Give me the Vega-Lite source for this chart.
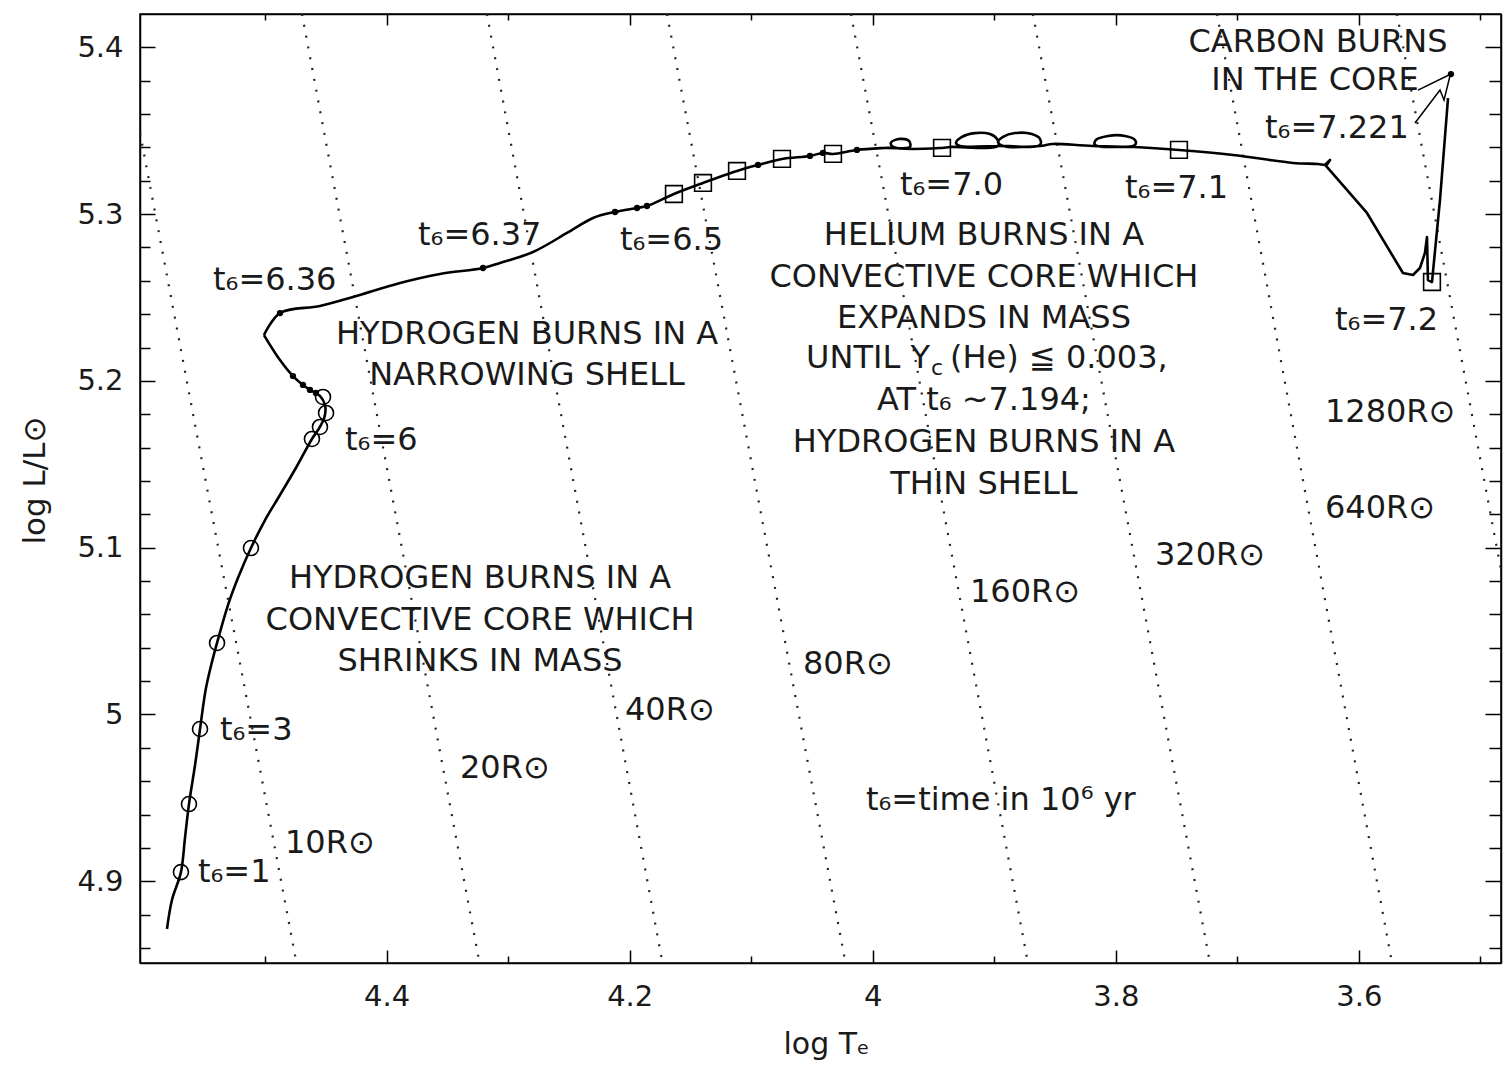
{
  "$schema": "https://vega.github.io/schema/vega-lite/v6.json",
  "width": 1361,
  "height": 949,
  "autosize": {"type": "none"},
  "padding": {"left": 140, "top": 14, "right": 3, "bottom": 102},
  "background": "white",
  "config": {"view": {"stroke": "black", "strokeWidth": 1.5}, "font": "DejaVu Sans"},
  "resolve": {"axis": {"x": "independent", "y": "independent"}},
  "datasets": {
    "track": [
      {"seg": "A", "i": 1, "logT": 4.5808, "logL": 4.8714}, {"seg": "A", "i": 2, "logT": 4.5767, "logL": 4.8888}, {"seg": "A", "i": 3, "logT": 4.5693, "logL": 4.9055},
      {"seg": "A", "i": 4, "logT": 4.5660, "logL": 4.9259}, {"seg": "A", "i": 5, "logT": 4.5627, "logL": 4.9463}, {"seg": "A", "i": 6, "logT": 4.5577, "logL": 4.9697},
      {"seg": "A", "i": 7, "logT": 4.5536, "logL": 4.9913}, {"seg": "A", "i": 8, "logT": 4.5490, "logL": 5.0147}, {"seg": "A", "i": 9, "logT": 4.5450, "logL": 5.0279},
      {"seg": "A", "i": 10, "logT": 4.5396, "logL": 5.0429}, {"seg": "A", "i": 11, "logT": 4.5306, "logL": 5.0656}, {"seg": "A", "i": 12, "logT": 4.5224, "logL": 5.0818},
      {"seg": "A", "i": 13, "logT": 4.5117, "logL": 5.0998}, {"seg": "A", "i": 14, "logT": 4.5001, "logL": 5.1166}, {"seg": "A", "i": 15, "logT": 4.4878, "logL": 5.1316},
      {"seg": "A", "i": 16, "logT": 4.4738, "logL": 5.1490}, {"seg": "A", "i": 17, "logT": 4.4615, "logL": 5.1652}, {"seg": "A", "i": 18, "logT": 4.4549, "logL": 5.1724},
      {"seg": "A", "i": 19, "logT": 4.4508, "logL": 5.1796}, {"seg": "A", "i": 20, "logT": 4.4508, "logL": 5.1856}, {"seg": "A", "i": 21, "logT": 4.4549, "logL": 5.1910},
      {"seg": "A", "i": 22, "logT": 4.4615, "logL": 5.1940}, {"seg": "A", "i": 23, "logT": 4.4689, "logL": 5.1976}, {"seg": "A", "i": 24, "logT": 4.4771, "logL": 5.2029},
      {"seg": "A", "i": 25, "logT": 4.4878, "logL": 5.2125}, {"seg": "A", "i": 26, "logT": 4.5010, "logL": 5.2275},
      {"seg": "B", "i": 26, "logT": 4.5010, "logL": 5.2275}, {"seg": "B", "i": 27, "logT": 4.4878, "logL": 5.2407},
      {"seg": "B", "i": 28, "logT": 4.4549, "logL": 5.2449}, {"seg": "B", "i": 29, "logT": 4.4277, "logL": 5.2503}, {"seg": "B", "i": 30, "logT": 4.3890, "logL": 5.2587},
      {"seg": "B", "i": 31, "logT": 4.3561, "logL": 5.2641}, {"seg": "B", "i": 32, "logT": 4.3207, "logL": 5.2677}, {"seg": "B", "i": 33, "logT": 4.3068, "logL": 5.2707},
      {"seg": "B", "i": 34, "logT": 4.2796, "logL": 5.2773}, {"seg": "B", "i": 35, "logT": 4.2516, "logL": 5.2887}, {"seg": "B", "i": 36, "logT": 4.2302, "logL": 5.2977},
      {"seg": "B", "i": 37, "logT": 4.2121, "logL": 5.3013}, {"seg": "B", "i": 38, "logT": 4.1940, "logL": 5.3037}, {"seg": "B", "i": 39, "logT": 4.1858, "logL": 5.3049},
      {"seg": "B", "i": 40, "logT": 4.1636, "logL": 5.3121}, {"seg": "B", "i": 41, "logT": 4.1397, "logL": 5.3187}, {"seg": "B", "i": 42, "logT": 4.1117, "logL": 5.3259},
      {"seg": "B", "i": 43, "logT": 4.0944, "logL": 5.3295}, {"seg": "B", "i": 44, "logT": 4.0747, "logL": 5.3331}, {"seg": "B", "i": 45, "logT": 4.0517, "logL": 5.3349},
      {"seg": "B", "i": 46, "logT": 4.0410, "logL": 5.3367}, {"seg": "B", "i": 47, "logT": 4.0327, "logL": 5.3361}, {"seg": "B", "i": 48, "logT": 4.0130, "logL": 5.3385},
      {"seg": "B", "i": 49, "logT": 3.9899, "logL": 5.3397}, {"seg": "B", "i": 50, "logT": 3.9694, "logL": 5.3403}, {"seg": "B", "i": 51, "logT": 3.9702, "logL": 5.3439},
      {"seg": "B", "i": 52, "logT": 3.9775, "logL": 5.3451}, {"seg": "B", "i": 53, "logT": 3.9850, "logL": 5.3430}, {"seg": "B", "i": 54, "logT": 3.9833, "logL": 5.3403},
      {"seg": "B", "i": 55, "logT": 3.9430, "logL": 5.3397}, {"seg": "B", "i": 56, "logT": 3.9364, "logL": 5.3403}, {"seg": "B", "i": 57, "logT": 3.8969, "logL": 5.3409},
      {"seg": "B", "i": 58, "logT": 3.8978, "logL": 5.3451}, {"seg": "B", "i": 59, "logT": 3.9035, "logL": 5.3480}, {"seg": "B", "i": 60, "logT": 3.9159, "logL": 5.3486},
      {"seg": "B", "i": 61, "logT": 3.9266, "logL": 5.3463}, {"seg": "B", "i": 62, "logT": 3.9315, "logL": 5.3427}, {"seg": "B", "i": 63, "logT": 3.9282, "logL": 5.3409},
      {"seg": "B", "i": 64, "logT": 3.8969, "logL": 5.3409}, {"seg": "B", "i": 65, "logT": 3.8624, "logL": 5.3415}, {"seg": "B", "i": 66, "logT": 3.8624, "logL": 5.3451},
      {"seg": "B", "i": 67, "logT": 3.8690, "logL": 5.3480}, {"seg": "B", "i": 68, "logT": 3.8830, "logL": 5.3486}, {"seg": "B", "i": 69, "logT": 3.8928, "logL": 5.3463},
      {"seg": "B", "i": 70, "logT": 3.8969, "logL": 5.3433}, {"seg": "B", "i": 71, "logT": 3.8928, "logL": 5.3409}, {"seg": "B", "i": 72, "logT": 3.8624, "logL": 5.3409},
      {"seg": "B", "i": 73, "logT": 3.8517, "logL": 5.3421}, {"seg": "B", "i": 74, "logT": 3.8188, "logL": 5.3409}, {"seg": "B", "i": 75, "logT": 3.7842, "logL": 5.3415},
      {"seg": "B", "i": 76, "logT": 3.7842, "logL": 5.3445}, {"seg": "B", "i": 77, "logT": 3.7924, "logL": 5.3469}, {"seg": "B", "i": 78, "logT": 3.8064, "logL": 5.3469},
      {"seg": "B", "i": 79, "logT": 3.8163, "logL": 5.3445}, {"seg": "B", "i": 80, "logT": 3.8171, "logL": 5.3415}, {"seg": "B", "i": 81, "logT": 3.7842, "logL": 5.3403},
      {"seg": "B", "i": 82, "logT": 3.7480, "logL": 5.3385}, {"seg": "B", "i": 83, "logT": 3.7036, "logL": 5.3355}, {"seg": "B", "i": 84, "logT": 3.6542, "logL": 5.3307},
      {"seg": "B", "i": 85, "logT": 3.6336, "logL": 5.3301}, {"seg": "B", "i": 86, "logT": 3.6279, "logL": 5.3295},
      {"seg": "C", "i": 86, "logT": 3.6279, "logL": 5.3295}, {"seg": "C", "i": 87, "logT": 3.6237, "logL": 5.3325},
      {"seg": "C", "i": 88, "logT": 3.6270, "logL": 5.3289}, {"seg": "C", "i": 89, "logT": 3.5933, "logL": 5.3007}, {"seg": "C", "i": 90, "logT": 3.5637, "logL": 5.2647},
      {"seg": "C", "i": 91, "logT": 3.5554, "logL": 5.2635}, {"seg": "C", "i": 92, "logT": 3.5497, "logL": 5.2677}, {"seg": "C", "i": 93, "logT": 3.5456, "logL": 5.2767},
      {"seg": "C", "i": 94, "logT": 3.5439, "logL": 5.2863}, {"seg": "C", "i": 95, "logT": 3.5431, "logL": 5.2605}, {"seg": "C", "i": 96, "logT": 3.5398, "logL": 5.2593},
      {"seg": "C", "i": 97, "logT": 3.5332, "logL": 5.3085}, {"seg": "C", "i": 98, "logT": 3.5266, "logL": 5.3696}
    ]
  },
  "layer": [
    {
      "data": {"values": [
        {"R": "10", "logT": 4.6214, "logL": 5.420}, {"R": "10", "logT": 4.4742, "logL": 4.851},
        {"R": "20", "logT": 4.4697, "logL": 5.420}, {"R": "20", "logT": 4.3236, "logL": 4.851},
        {"R": "40", "logT": 4.3175, "logL": 5.420}, {"R": "40", "logT": 4.1730, "logL": 4.851},
        {"R": "80", "logT": 4.1693, "logL": 5.420}, {"R": "80", "logT": 4.0224, "logL": 4.851},
        {"R": "160", "logT": 4.0179, "logL": 5.420}, {"R": "160", "logT": 3.8723, "logL": 4.851},
        {"R": "320", "logT": 3.8682, "logL": 5.420}, {"R": "320", "logT": 3.7225, "logL": 4.851},
        {"R": "640", "logT": 3.7167, "logL": 5.420}, {"R": "640", "logT": 3.5727, "logL": 4.851},
        {"R": "1280", "logT": 3.5686, "logL": 5.420}, {"R": "1280", "logT": 3.4225, "logL": 4.851}
      ]},
      "mark": {"type": "line", "strokeDash": [2, 9], "strokeWidth": 2.2, "color": "#222222", "clip": true},
      "encoding": {
        "x": {
          "field": "logT", "type": "quantitative",
          "scale": {"domain": [4.603, 3.483], "nice": false, "zero": false},
          "axis": {
            "orient": "bottom",
            "values": [4.5, 4.4, 4.3, 4.2, 4.1, 4.0, 3.9, 3.8, 3.7, 3.6, 3.5],
            "format": ".1~f",
            "labelExpr": "abs(datum.value*5 - round(datum.value*5)) < 0.001 ? datum.label : ''",
            "tickSize": {"condition": {"test": "abs(datum.value*5 - round(datum.value*5)) < 0.001", "value": -13}, "value": -7},
            "tickColor": "black", "tickWidth": 1.5,
            "domainColor": "black", "domainWidth": 1.5,
            "labelFont": "DejaVu Sans", "labelFontSize": 29, "labelColor": "#1a1a1a",
            "labelPadding": 32, "labelOverlap": false, "labelFlush": false,
            "grid": false,
            "title": "log Tₑ", "titleFont": "DejaVu Sans", "titleFontSize": 30, "titleFontWeight": "normal", "titleColor": "#1a1a1a",
            "titleX": 686, "titleY": 90, "titleAlign": "center", "titleBaseline": "alphabetic"
          }
        },
        "y": {
          "field": "logL", "type": "quantitative",
          "scale": {"domain": [4.851, 5.420], "nice": false, "zero": false},
          "axis": {
            "orient": "left",
            "values": [4.86, 4.88, 4.9, 4.92, 4.94, 4.96, 4.98, 5, 5.02, 5.04, 5.06, 5.08, 5.1, 5.12, 5.14, 5.16, 5.18, 5.2, 5.22, 5.24, 5.26, 5.28, 5.3, 5.32, 5.34, 5.36, 5.38, 5.4],
            "format": ".1~f",
            "labelExpr": "abs(datum.value*10 - round(datum.value*10)) < 0.001 ? datum.label : ''",
            "tickSize": {"condition": {"test": "abs(datum.value*10 - round(datum.value*10)) < 0.001", "value": -15}, "value": -10},
            "tickColor": "black", "tickWidth": 1.5,
            "domainColor": "black", "domainWidth": 1.5,
            "labelFont": "DejaVu Sans", "labelFontSize": 29, "labelColor": "#1a1a1a",
            "labelPadding": 32, "labelOverlap": false, "labelFlush": false,
            "grid": false,
            "title": "log L/L⊙", "titleFont": "DejaVu Sans", "titleFontSize": 31, "titleFontWeight": "normal", "titleColor": "#1a1a1a",
            "titleX": -105, "titleY": 466, "titleAngle": 270, "titleAlign": "center", "titleBaseline": "middle"
          }
        },
        "detail": {"field": "R"}
      }
    },
    {
      "data": {"name": "track"},
      "transform": [{"filter": "datum.seg != 'C'"}],
      "mark": {"type": "line", "color": "black", "strokeWidth": 2.6, "interpolate": "catmull-rom", "clip": true},
      "encoding": {
        "x": {
          "field": "logT", "type": "quantitative",
          "axis": {
            "orient": "top",
            "values": [4.5, 4.4, 4.3, 4.2, 4.1, 4.0, 3.9, 3.8, 3.7, 3.6, 3.5],
            "labels": false,
            "tickSize": {"condition": {"test": "abs(datum.value*5 - round(datum.value*5)) < 0.001", "value": -11}, "value": -6},
            "tickColor": "black", "tickWidth": 1.5,
            "domainColor": "black", "domainWidth": 1.5,
            "grid": false, "title": null
          }
        },
        "y": {
          "field": "logL", "type": "quantitative",
          "axis": {
            "orient": "right",
            "values": [4.86, 4.88, 4.9, 4.92, 4.94, 4.96, 4.98, 5, 5.02, 5.04, 5.06, 5.08, 5.1, 5.12, 5.14, 5.16, 5.18, 5.2, 5.22, 5.24, 5.26, 5.28, 5.3, 5.32, 5.34, 5.36, 5.38, 5.4],
            "labels": false,
            "tickSize": {"condition": {"test": "abs(datum.value*10 - round(datum.value*10)) < 0.001", "value": -16}, "value": -12},
            "tickColor": "black", "tickWidth": 1.5,
            "domainColor": "black", "domainWidth": 1.5,
            "grid": false, "title": null
          }
        },
        "detail": {"field": "seg"},
        "order": {"field": "i", "type": "quantitative"}
      }
    },
    {
      "data": {"name": "track"},
      "transform": [{"filter": "datum.seg == 'C'"}],
      "mark": {"type": "line", "color": "black", "strokeWidth": 2.6, "strokeJoin": "round", "clip": true},
      "encoding": {
        "x": {"field": "logT", "type": "quantitative", "axis": null},
        "y": {"field": "logL", "type": "quantitative", "axis": null},
        "order": {"field": "i", "type": "quantitative"}
      }
    },
    {
      "data": {"values": [
        {"a": "core", "i": 1, "logT": 3.5513, "logL": 5.3744}, {"a": "core", "i": 2, "logT": 3.5242, "logL": 5.3840},
        {"a": "t", "i": 1, "logT": 3.5538, "logL": 5.3546}, {"a": "t", "i": 2, "logT": 3.5332, "logL": 5.3744},
        {"a": "t", "i": 3, "logT": 3.5299, "logL": 5.3684}, {"a": "t", "i": 4, "logT": 3.5250, "logL": 5.3828}
      ]},
      "mark": {"type": "line", "color": "black", "strokeWidth": 1.5},
      "encoding": {
        "x": {"field": "logT", "type": "quantitative", "axis": null},
        "y": {"field": "logL", "type": "quantitative", "axis": null},
        "detail": {"field": "a"},
        "order": {"field": "i", "type": "quantitative"}
      }
    },
    {
      "data": {"values": [
        {"logT": 4.5693, "logL": 4.9055}, {"logT": 4.5627, "logL": 4.9463}, {"logT": 4.5536, "logL": 4.9913},
        {"logT": 4.5396, "logL": 5.0429}, {"logT": 4.5117, "logL": 5.0998}, {"logT": 4.4615, "logL": 5.1652},
        {"logT": 4.4549, "logL": 5.1724}, {"logT": 4.4499, "logL": 5.1808}, {"logT": 4.4524, "logL": 5.1904}
      ]},
      "mark": {"type": "point", "shape": "circle", "size": 225, "filled": false, "color": "black", "strokeWidth": 1.6, "opacity": 1},
      "encoding": {
        "x": {"field": "logT", "type": "quantitative", "axis": null},
        "y": {"field": "logL", "type": "quantitative", "axis": null}
      }
    },
    {
      "data": {"values": [
        {"logT": 4.1636, "logL": 5.3121}, {"logT": 4.1397, "logL": 5.3187}, {"logT": 4.1117, "logL": 5.3259},
        {"logT": 4.0747, "logL": 5.3331}, {"logT": 4.0327, "logL": 5.3361}, {"logT": 3.9430, "logL": 5.3397},
        {"logT": 3.7480, "logL": 5.3385}, {"logT": 3.5398, "logL": 5.2593}
      ]},
      "mark": {"type": "point", "shape": "square", "size": 280, "filled": false, "color": "black", "strokeWidth": 1.6, "opacity": 1},
      "encoding": {
        "x": {"field": "logT", "type": "quantitative", "axis": null},
        "y": {"field": "logL", "type": "quantitative", "axis": null}
      }
    },
    {
      "data": {"values": [
        {"logT": 4.4878, "logL": 5.2407}, {"logT": 4.4771, "logL": 5.2029}, {"logT": 4.4689, "logL": 5.1976},
        {"logT": 4.4631, "logL": 5.1946}, {"logT": 4.4582, "logL": 5.1928}, {"logT": 4.3207, "logL": 5.2677},
        {"logT": 4.2121, "logL": 5.3013}, {"logT": 4.1940, "logL": 5.3037}, {"logT": 4.1858, "logL": 5.3049},
        {"logT": 4.0944, "logL": 5.3295}, {"logT": 4.0517, "logL": 5.3349}, {"logT": 4.0410, "logL": 5.3367},
        {"logT": 4.0130, "logL": 5.3385}, {"logT": 3.5242, "logL": 5.3840}
      ]},
      "mark": {"type": "point", "shape": "circle", "size": 40, "filled": true, "color": "black", "opacity": 1},
      "encoding": {
        "x": {"field": "logT", "type": "quantitative", "axis": null},
        "y": {"field": "logL", "type": "quantitative", "axis": null}
      }
    },
    {
      "data": {"values": [
        {"t": "CARBON BURNS", "logT": 3.6336, "logL": 5.4032},
        {"t": "IN THE CORE", "logT": 3.6361, "logL": 5.3804},
        {"t": "HELIUM BURNS IN A", "logT": 3.9085, "logL": 5.2875},
        {"t": "CONVECTIVE CORE WHICH", "logT": 3.9085, "logL": 5.2623},
        {"t": "EXPANDS IN MASS", "logT": 3.9085, "logL": 5.2377},
        {"t": "AT t₆ ~7.194;", "logT": 3.9085, "logL": 5.1886},
        {"t": "HYDROGEN BURNS IN A", "logT": 3.9085, "logL": 5.1634},
        {"t": "THIN SHELL", "logT": 3.9085, "logL": 5.1382},
        {"t": "HYDROGEN BURNS IN A", "logT": 4.2845, "logL": 5.2281},
        {"t": "NARROWING SHELL", "logT": 4.2845, "logL": 5.2035},
        {"t": "HYDROGEN BURNS IN A", "logT": 4.3232, "logL": 5.0818},
        {"t": "CONVECTIVE CORE WHICH", "logT": 4.3232, "logL": 5.0567},
        {"t": "SHRINKS IN MASS", "logT": 4.3232, "logL": 5.0321}
      ]},
      "mark": {"type": "text", "font": "DejaVu Sans", "fontSize": 32, "color": "#1a1a1a", "align": "center", "baseline": "middle"},
      "encoding": {
        "x": {"field": "logT", "type": "quantitative", "axis": null},
        "y": {"field": "logL", "type": "quantitative", "axis": null},
        "text": {"field": "t"}
      }
    },
    {
      "data": {"values": [
        {"t": "UNTIL Y", "logT": 4.0549, "logL": 5.2137},
        {"t": "(He) ≦ 0.003,", "logT": 3.9364, "logL": 5.2137},
        {"t": "t₆=7.221", "logT": 3.6772, "logL": 5.3516},
        {"t": "t₆=7.0", "logT": 3.9776, "logL": 5.3175},
        {"t": "t₆=7.1", "logT": 3.7924, "logL": 5.3157},
        {"t": "t₆=6.37", "logT": 4.3742, "logL": 5.2875},
        {"t": "t₆=6.5", "logT": 4.2080, "logL": 5.2845},
        {"t": "t₆=6.36", "logT": 4.5429, "logL": 5.2605},
        {"t": "t₆=6", "logT": 4.4343, "logL": 5.1646},
        {"t": "t₆=7.2", "logT": 3.6196, "logL": 5.2365},
        {"t": "1280R⊙", "logT": 3.6279, "logL": 5.1814},
        {"t": "640R⊙", "logT": 3.6279, "logL": 5.1238},
        {"t": "320R⊙", "logT": 3.7678, "logL": 5.0956},
        {"t": "160R⊙", "logT": 3.9200, "logL": 5.0734},
        {"t": "80R⊙", "logT": 4.0574, "logL": 5.0303},
        {"t": "40R⊙", "logT": 4.2039, "logL": 5.0027},
        {"t": "20R⊙", "logT": 4.3397, "logL": 4.9679},
        {"t": "10R⊙", "logT": 4.4837, "logL": 4.9229},
        {"t": "t₆=3", "logT": 4.5372, "logL": 4.9907},
        {"t": "t₆=1", "logT": 4.5553, "logL": 4.9056},
        {"t": "t₆=time in 10⁶ yr", "logT": 4.0056, "logL": 4.9487}
      ]},
      "mark": {"type": "text", "font": "DejaVu Sans", "fontSize": 32, "color": "#1a1a1a", "align": "left", "baseline": "middle"},
      "encoding": {
        "x": {"field": "logT", "type": "quantitative", "axis": null},
        "y": {"field": "logL", "type": "quantitative", "axis": null},
        "text": {"field": "t"}
      }
    },
    {
      "data": {"values": [{"t": "c", "logT": 3.9521, "logL": 5.2077}]},
      "mark": {"type": "text", "font": "DejaVu Sans", "fontSize": 22, "color": "#1a1a1a", "align": "left", "baseline": "middle"},
      "encoding": {
        "x": {"field": "logT", "type": "quantitative", "axis": null},
        "y": {"field": "logL", "type": "quantitative", "axis": null},
        "text": {"field": "t"}
      }
    }
  ]
}
